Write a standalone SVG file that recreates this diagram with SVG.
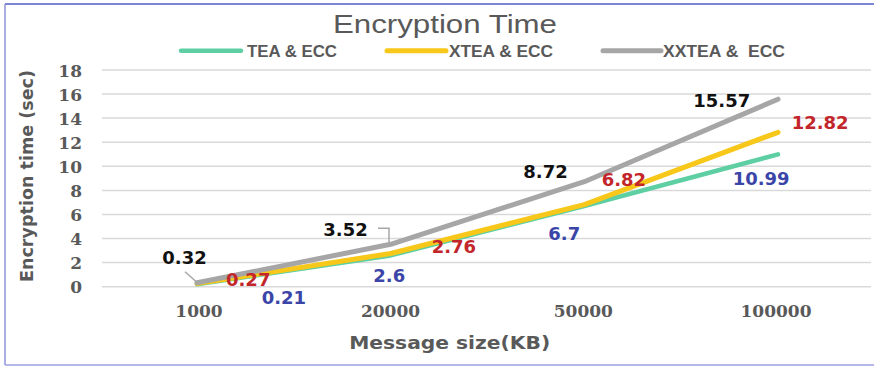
<svg xmlns="http://www.w3.org/2000/svg" width="874" height="366" viewBox="0 0 874 366">
  <style>
    .grid { stroke: #d9d9d9; stroke-width: 1.5; }
    .tick { font-family: "DejaVu Serif", serif; font-weight: bold; font-size: 17px; fill: #595959; }
    .axis { font-family: "DejaVu Sans", Verdana, sans-serif; font-weight: bold; font-size: 18px; fill: #595959; }
    .title { font-family: "Liberation Sans Narrow", "Liberation Sans", sans-serif; font-size: 26px; fill: #595959; }
    .leg { font-family: "Liberation Sans Narrow", "Liberation Sans", sans-serif; font-weight: bold; font-size: 16px; fill: #595959; }
    .lbl { font-family: "DejaVu Sans", Verdana, sans-serif; font-weight: bold; font-size: 18px; }
    .s-tea { stroke: #5ecfa2; fill: none; stroke-width: 4.5; stroke-linejoin: round; stroke-linecap: round; }
    .s-xtea { stroke: #f7c71a; fill: none; stroke-width: 5; stroke-linejoin: round; stroke-linecap: round; }
    .s-xxtea { stroke: #a6a6a6; fill: none; stroke-width: 5; stroke-linejoin: round; stroke-linecap: round; }
    .k { fill: #111111; }
    .r { fill: #c3262a; }
    .b { fill: #3b45a8; }
    .lead { stroke: #a6a6a6; stroke-width: 1.5; fill: none; }
  </style>

  <rect width="874" height="366" fill="#ffffff"/>
  <!-- frame -->
  <path d="M874,4 H5" stroke="#4f5cc4" stroke-width="1.5" fill="none"/>
  <path d="M5,4 V365" stroke="#8c92da" stroke-width="1.5" fill="none"/>
  <path d="M5,365 H874" stroke="#9ca0e0" stroke-width="1.5" fill="none"/>

  <!-- title and legend -->
  <text class="title" x="333" y="33" textLength="224" lengthAdjust="spacingAndGlyphs">Encryption Time</text>
  <g id="legend">
    <line x1="181" y1="50.7" x2="241" y2="50.7" class="s-tea" stroke-width="5"/>
    <text class="leg" x="247" y="56.5" textLength="90" lengthAdjust="spacingAndGlyphs">TEA &amp; ECC</text>
    <line x1="387" y1="50.7" x2="446" y2="50.7" class="s-xtea"/>
    <text class="leg" x="449" y="56.5" textLength="104" lengthAdjust="spacingAndGlyphs">XTEA &amp; ECC</text>
    <line x1="603" y1="50.7" x2="661" y2="50.7" class="s-xxtea"/>
    <text class="leg" x="663" y="56.5" textLength="122" lengthAdjust="spacingAndGlyphs">XXTEA &amp;&#160; ECC</text>
  </g>

  <!-- gridlines -->
  <g id="grid">
    <line class="grid" x1="102" y1="70" x2="871" y2="70"/>
    <line class="grid" x1="102" y1="94.1" x2="871" y2="94.1"/>
    <line class="grid" x1="102" y1="118.1" x2="871" y2="118.1"/>
    <line class="grid" x1="102" y1="142.2" x2="871" y2="142.2"/>
    <line class="grid" x1="102" y1="166.3" x2="871" y2="166.3"/>
    <line class="grid" x1="102" y1="190.4" x2="871" y2="190.4"/>
    <line class="grid" x1="102" y1="214.5" x2="871" y2="214.5"/>
    <line class="grid" x1="102" y1="238.5" x2="871" y2="238.5"/>
    <line class="grid" x1="102" y1="262.6" x2="871" y2="262.6"/>
    <line class="grid" x1="102" y1="286.7" x2="871" y2="286.7"/>
  </g>

  <!-- y axis -->
  <g id="y-axis">
    <text class="tick" text-anchor="end" x="82" y="76.5">18</text>
    <text class="tick" text-anchor="end" x="82" y="100.6">16</text>
    <text class="tick" text-anchor="end" x="82" y="124.6">14</text>
    <text class="tick" text-anchor="end" x="82" y="148.7">12</text>
    <text class="tick" text-anchor="end" x="82" y="172.8">10</text>
    <text class="tick" text-anchor="end" x="82" y="196.9">8</text>
    <text class="tick" text-anchor="end" x="82" y="221">6</text>
    <text class="tick" text-anchor="end" x="82" y="245">4</text>
    <text class="tick" text-anchor="end" x="82" y="269.1">2</text>
    <text class="tick" text-anchor="end" x="82" y="293.2">0</text>
    <text class="axis" transform="translate(33,176) rotate(-90)" text-anchor="middle" textLength="212" lengthAdjust="spacingAndGlyphs">Encryption time (sec)</text>
  </g>

  <!-- x axis -->
  <g id="x-axis">
    <text class="tick" text-anchor="middle" x="199" y="316.7">1000</text>
    <text class="tick" text-anchor="middle" x="390.5" y="316.7">20000</text>
    <text class="tick" text-anchor="middle" x="583.3" y="316.7">50000</text>
    <text class="tick" text-anchor="middle" x="776" y="316.7">100000</text>
    <text class="axis" x="449.7" y="349.3" text-anchor="middle" textLength="201" lengthAdjust="spacingAndGlyphs">Message size(KB)</text>
  </g>

  <!-- series -->
  <g id="series">
    <polyline id="tea" class="s-tea" points="197,284.2 390.7,255.4 584.3,206 778,154.4"/>
    <polyline id="xtea" class="s-xtea" points="197,283.5 390.7,253.5 584.3,204.6 778,132.3"/>
    <polyline id="xxtea" class="s-xxtea" points="197,282.8 390.7,244.3 584.3,181.7 778,99.2"/>
  </g>

  <!-- leader lines -->
  <g id="leaders">
    <path class="lead" d="M185,271.7 L196,281.5"/>
    <path class="lead" d="M378,228.3 H389 V242"/>
  </g>

  <!-- data labels -->
  <g id="labels">
    <text class="lbl k" x="162.3" y="263.5">0.32</text>
    <text class="lbl r" x="226" y="286">0.27</text>
    <text class="lbl b" x="261.7" y="304">0.21</text>
    <text class="lbl k" x="323.3" y="235.7">3.52</text>
    <text class="lbl r" x="431.7" y="253.3">2.76</text>
    <text class="lbl b" x="373.3" y="281.5">2.6</text>
    <text class="lbl k" x="523.3" y="178.3">8.72</text>
    <text class="lbl r" x="601.7" y="186">6.82</text>
    <text class="lbl b" x="548.3" y="240">6.7</text>
    <text class="lbl k" x="693.3" y="106.7">15.57</text>
    <text class="lbl r" x="791.7" y="129">12.82</text>
    <text class="lbl b" x="732.7" y="185">10.99</text>
  </g>
</svg>
